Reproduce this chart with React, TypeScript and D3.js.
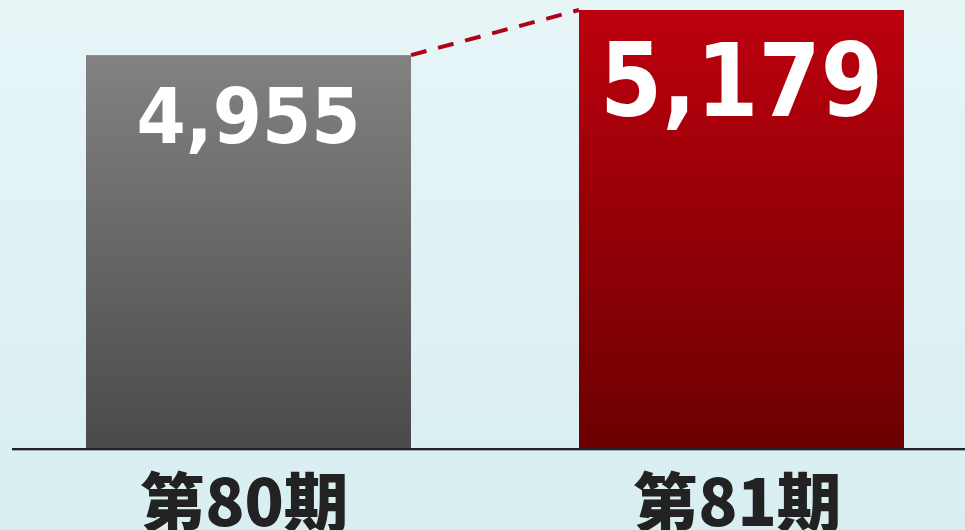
import React from "react";
import * as d3 from "d3";

const categories = ["第80期", "第81期"];
const values = [4955, 5179];
const valueLabels = ["4,955", "5,179"];

const W = 965;
const H = 530;

export default function App() {
  const x = d3
    .scaleBand<string>()
    .domain(categories)
    .range([86, 904])
    .paddingInner(168 / 493)
    .paddingOuter(0);
  const y = d3.scaleLinear().domain([3000, 5179]).range([449, 10]);
  const bw = x.bandwidth();

  const labelSizes = [77, 101];
  const labelWidths = [224, 283];
  const gradIds = ["gGray", "gRed"];

  const p0: [number, number] = [x(categories[0])! + bw, y(values[0])];
  const p1: [number, number] = [x(categories[1])!, y(values[1])];
  const line = d3.line()([p0, p1]);

  return (
    <svg
      width={W}
      height={H}
      style={{ position: "absolute", left: 0, top: 0, display: "block" }}
    >
      <defs>
        <linearGradient id="bg" x1="0" y1="0" x2="0" y2="1">
          <stop offset="0" stopColor="#e7f5f7" />
          <stop offset="1" stopColor="#d8eef1" />
        </linearGradient>
        <linearGradient id="gGray" x1="0" y1="0" x2="0" y2="1">
          <stop offset="0" stopColor="#828282" />
          <stop offset="1" stopColor="#4a4a4a" />
        </linearGradient>
        <linearGradient id="gRed" x1="0" y1="0" x2="0" y2="1">
          <stop offset="0" stopColor="#bd000e" />
          <stop offset="1" stopColor="#6b0000" />
        </linearGradient>
      </defs>
      <rect x={0} y={0} width={W} height={H} fill="url(#bg)" />
      {categories.map((c, i) => (
        <rect
          key={c}
          x={x(c)}
          y={y(values[i])}
          width={bw}
          height={y(3000) - y(values[i])}
          fill={`url(#${gradIds[i]})`}
        />
      ))}
      <path
        d={line!}
        stroke="#b0001a"
        strokeWidth={4}
        strokeDasharray="16 12"
        fill="none"
      />
      <line x1={12} x2={W} y1={449} y2={449} stroke="#222" strokeWidth={2} />
      <line x1={12} x2={W} y1={450.5} y2={450.5} stroke="#9aa8aa" strokeWidth={1} />
      {categories.map((c, i) => (
        <text
          key={"v" + c}
          x={x(c)! + bw / 2}
          y={y(values[i]) + 32 + labelSizes[i] * 0.729}
          textAnchor="middle"
          fill="#ffffff"
          fontFamily="'DejaVu Sans', Verdana, sans-serif"
          fontWeight="bold"
          fontSize={labelSizes[i]}
          textLength={labelWidths[i]}
          lengthAdjust="spacingAndGlyphs"
        >
          {valueLabels[i]}
        </text>
      ))}
      {categories.map((c) => (
        <text
          key={"c" + c}
          x={x(c)! + bw / 2 - 4}
          y={526}
          textAnchor="middle"
          fill="#222222"
          fontFamily="'Noto Sans CJK JP', sans-serif"
          fontWeight={900}
          fontSize={64}
          textLength={208}
          lengthAdjust="spacingAndGlyphs"
        >
          {c}
        </text>
      ))}
    </svg>
  );
}
